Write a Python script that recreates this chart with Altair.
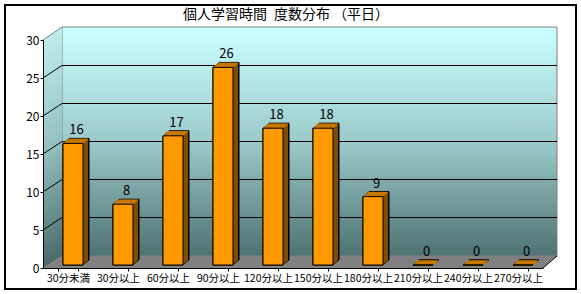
import altair as alt
import pandas as pd

# ---------------- data ----------------
categories = ["30分未満", "30分以上", "60分以上", "90分以上", "120分以上",
              "150分以上", "180分以上", "210分以上", "240分以上", "270分以上"]
counts = [16, 8, 17, 26, 18, 18, 9, 0, 0, 0]
y_ticks = [0, 5, 10, 15, 20, 25, 30]
grid_values = [5, 10, 15, 20, 25]
title_text = "個人学習時間\u2002度数分布 （平日）"

# ---------------- style ----------------
FONT = "Noto Sans CJK JP"
W, H = 500, 228              # front plot area (axes)
WALL_DX = 19                 # depth of the 3D walls (px)
WALL_DY_TOP, WALL_DY_BOT = 13, 12
BACK_RIGHT = 514
BAR_SHIFT, BAR_LIFT = 5, 3   # bars sit a little behind the front plane
BAR_DX, BAR_DY = 6, 5        # bar extrusion
FRONT_C, SIDE_C, TOP_C = "#FF9900", "#7F4C00", "#CC7A00"
FLOOR_C = "#808080"
EDGE_C = "#808080"


def grad(c0, c1, c2):
    return alt.Gradient(
        gradient="linear", x1=0, x2=0, y1=0, y2=1,
        stops=[alt.GradientStop(offset=0, color=c0),
               alt.GradientStop(offset=0.5, color=c1),
               alt.GradientStop(offset=1, color=c2)])


WALL_GRAD = grad("#CCFFFF", "#9CCACA", "#4E7272")
LEFT_GRAD = grad("#BFEDED", "#93BFBF", "#4A6A6A")

bars_df = pd.DataFrame({"cat": categories, "n": counts})
grid_df = pd.DataFrame({"v": grid_values})
one = pd.DataFrame({"k": [0]})

yscale = alt.Scale(domain=[0, 30], nice=False)
xscale = alt.Scale(domain=categories, paddingInner=0.6, paddingOuter=0.3)

x_axis = alt.Axis(title=None, labelAngle=0, labelFont=FONT, labelFontSize=10.5, labelColor="black",
                  domainColor="black", tickColor="black", tickSize=3, tickBand="extent",
                  labelPadding=2, labelOverlap=False, grid=False, zindex=1)
y_axis = alt.Axis(title=None, values=y_ticks, labelFont=FONT, labelFontSize=12, labelColor="black",
                  domainColor="black", tickColor="black", tickSize=3, labelPadding=1,
                  grid=False, zindex=1)


def xenc():
    return alt.X("cat:N", scale=xscale, axis=x_axis)


def yenc(field):
    return alt.Y(field, scale=yscale, axis=y_axis)


def yd(v):
    return alt.YDatum(v, scale=yscale, axis=y_axis)


layers = []

# outer border of the chart
layers.append(alt.Chart(one).mark_rect(fill="transparent", stroke="black", strokeWidth=2).encode(
    x=alt.value(5 - 43), x2=alt.value(576 - 43), y=alt.value(5 - 40), y2=alt.value(289 - 40)))

# title
layers.append(alt.Chart(one).mark_text(font=FONT, fontSize=14, color="black", align="center",
                                       baseline="middle").encode(
    x=alt.value(286 - 43), y=alt.value(15 - 40), text=alt.value(title_text)))

# back wall
layers.append(alt.Chart(one).mark_rect(
    fill=WALL_GRAD, stroke=EDGE_C, strokeWidth=1,
    yOffset=-WALL_DY_TOP, y2Offset=-WALL_DY_BOT).encode(
    x=alt.value(WALL_DX), x2=alt.value(BACK_RIGHT), y=yd(30), y2=alt.Y2Datum(0)))

# left wall (parallelogram built from thin strips)
for k in range(WALL_DX):
    t = (k + 0.5) / WALL_DX
    layers.append(alt.Chart(one).mark_rect(
        fill=LEFT_GRAD, yOffset=-WALL_DY_TOP * t, y2Offset=-WALL_DY_BOT * t).encode(
        x=alt.value(k), x2=alt.value(min(k + 1.5, WALL_DX)), y=yd(30), y2=alt.Y2Datum(0)))

# floor (parallelogram built from thin rows)
for j in range(WALL_DY_BOT):
    t = (j + 0.5) / WALL_DY_BOT
    layers.append(alt.Chart(one).mark_rect(
        fill=FLOOR_C, yOffset=-j - 1.3, y2Offset=-j).encode(
        x=alt.value(WALL_DX * t), x2=alt.value(W + (BACK_RIGHT - W) * t),
        y=yd(0), y2=alt.Y2Datum(0)))

# left wall top edge
layers.append(alt.Chart(one).mark_rule(color=EDGE_C, strokeWidth=1, y2Offset=-WALL_DY_TOP).encode(
    x=alt.value(0), x2=alt.value(WALL_DX), y=yd(30), y2=alt.Y2Datum(30)))

# gridlines on back wall
layers.append(alt.Chart(grid_df).mark_rule(color="black", strokeWidth=1, yOffset=-12.5).encode(
    x=alt.value(WALL_DX), x2=alt.value(BACK_RIGHT), y=yenc("v:Q")))
# gridlines on left wall
layers.append(alt.Chart(grid_df).mark_rule(color="black", strokeWidth=1, y2Offset=-12.5).encode(
    x=alt.value(0), x2=alt.value(WALL_DX), y=yenc("v:Q"), y2="v:Q"))

# floor right edge
layers.append(alt.Chart(one).mark_rule(color="black", strokeWidth=1, y2Offset=-WALL_DY_BOT).encode(
    x=alt.value(W), x2=alt.value(BACK_RIGHT), y=yd(0), y2=alt.Y2Datum(0)))

base = alt.Chart(bars_df)


def off(k):
    return BAR_SHIFT + k, -BAR_LIFT - k * BAR_DY / BAR_DX


# black silhouette of the extruded bars
for k in range(BAR_DX, -1, -1):
    dx, dy = off(k)
    layers.append(base.mark_bar(color="black", stroke="black", strokeWidth=1,
                                xOffset=dx, yOffset=dy, y2Offset=dy).encode(
        x=xenc(), y=yenc("n:Q"), y2=alt.Y2Datum(0)))
# side faces
for k in range(BAR_DX - 1, 0, -1):
    dx, dy = off(k)
    layers.append(base.mark_bar(color=SIDE_C, xOffset=dx, yOffset=dy, y2Offset=dy).encode(
        x=xenc(), y=yenc("n:Q"), y2=alt.Y2Datum(0)))
# top faces
for k in range(0, BAR_DX):
    dx, dy = off(k)
    layers.append(base.mark_tick(color=TOP_C, size=20, thickness=1.2, opacity=1,
                                 xOffset=dx, yOffset=dy).encode(
        x=xenc(), y=yenc("n:Q")))

# front faces
dx, dy = off(0)
layers.append(base.mark_bar(color=FRONT_C, stroke="black", strokeWidth=1,
                            xOffset=dx, yOffset=dy, y2Offset=dy).encode(
    x=xenc(), y=yenc("n:Q"), y2=alt.Y2Datum(0)))

# value labels
layers.append(base.mark_text(font=FONT, fontSize=13, color="black", baseline="alphabetic",
                             dx=8.5, dy=-12).encode(
    x=xenc(), y=yenc("n:Q"), text="n:Q"))

chart = alt.layer(*layers).properties(
    width=W, height=H,
    autosize=alt.AutoSizeParams(type="none"),
    padding={"left": 43, "top": 40, "right": 38, "bottom": 26},
).configure_view(stroke="transparent")

chart.save("out.html", embed_options={"renderer": "svg", "actions": False})
